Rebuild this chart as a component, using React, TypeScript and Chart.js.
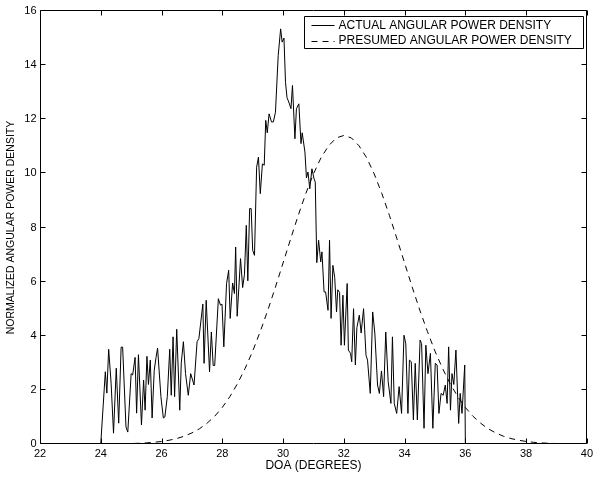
import React, { useEffect, useRef } from 'react';
import { Chart, registerables } from 'chart.js';

Chart.register(...registerables);

const FONT = '"Liberation Sans", Arial, Helvetica, sans-serif';

const xTitle = 'DOA (DEGREES)';
const yTitle = 'NORMALIZED ANGULAR POWER DENSITY';
const seriesLabels = ['ACTUAL ANGULAR POWER DENSITY', 'PRESUMED ANGULAR POWER DENSITY'];

const xTicks = [22, 24, 26, 28, 30, 32, 34, 36, 38, 40];
const yTicks = [0, 2, 4, 6, 8, 10, 12, 14, 16];

const actualDoa = [
  24.0, 24.15, 24.2, 24.26, 24.34, 24.42, 24.51, 24.59, 24.67, 24.72,
  24.83, 24.89, 25.0, 25.05, 25.13, 25.18, 25.24, 25.34, 25.41, 25.46,
  25.52, 25.57, 25.63, 25.69, 25.76, 25.82, 25.87, 25.98, 26.06, 26.11,
  26.19, 26.27, 26.32, 26.38, 26.43, 26.5, 26.6, 26.65, 26.72, 26.79,
  26.88, 26.96, 27.07, 27.17, 27.23, 27.36, 27.4, 27.47, 27.58, 27.64,
  27.7, 27.75, 27.87, 27.94, 27.99, 28.05, 28.14, 28.21, 28.26, 28.34,
  28.4, 28.44, 28.49, 28.6, 28.67, 28.73, 28.79, 28.84, 28.9, 28.95,
  29.0, 29.06, 29.13, 29.19, 29.25, 29.32, 29.38, 29.43, 29.48, 29.54,
  29.62, 29.68, 29.75, 29.84, 29.92, 29.97, 30.03, 30.08, 30.13, 30.2,
  30.26, 30.31, 30.39, 30.44, 30.52, 30.59, 30.63, 30.72, 30.77, 30.82,
  30.88, 30.95, 31.02, 31.06, 31.11, 31.17, 31.24, 31.28, 31.35, 31.4,
  31.48, 31.53, 31.58, 31.64, 31.7, 31.76, 31.8, 31.86, 31.91, 31.97,
  32.02, 32.11, 32.15, 32.22, 32.26, 32.32, 32.38, 32.43, 32.51, 32.57,
  32.65, 32.73, 32.78, 32.87, 32.95, 33.02, 33.11, 33.17, 33.24, 33.31,
  33.38, 33.46, 33.55, 33.6, 33.66, 33.74, 33.82, 33.9, 33.98, 34.04,
  34.11, 34.16, 34.22, 34.29, 34.35, 34.42, 34.51, 34.56, 34.64, 34.7,
  34.77, 34.85, 34.93, 35.01, 35.07, 35.13, 35.2, 35.27, 35.34, 35.4,
  35.45, 35.51, 35.56, 35.62, 35.69, 35.78, 35.83, 35.89, 35.98, 36.0,
];

const actualDensity = [
  0, 2.67, 1.88, 3.5, 2.25, 0.4, 2.8, 0.77, 3.58, 3.58,
  0.63, 0.44, 2.6, 2.55, 3.2, 1.14, 3.3, 0.7, 2.36, 1.25,
  3.24, 2.2, 3.1, 0.96, 2.73, 3.2, 3.54, 1.75, 0.96, 1.0,
  1.75, 3.5, 1.8, 3.96, 1.75, 4.24, 1.25, 3.0, 3.78, 2.6,
  1.8, 2.6, 2.18, 3.78, 3.9, 5.17, 2.98, 5.31, 2.67, 4.14,
  2.9, 2.9, 5.37, 5.13, 5.17, 3.59, 5.93, 6.42, 4.64, 5.95,
  5.56, 7.28, 4.72, 6.85, 5.78, 6.27, 8.08, 6.03, 8.7, 8.7,
  7.16, 6.97, 10.23, 10.6, 9.25, 10.35, 10.3, 11.96, 11.5, 12.2,
  11.9, 11.9, 12.26, 14.35, 15.34, 14.85, 15.0, 13.37, 12.8, 12.6,
  12.39, 13.25, 11.28, 12.39, 12.57, 11.1, 11.5, 10.79, 9.83, 10.05,
  9.43, 10.17, 9.8, 9.68, 6.7, 7.53, 6.73, 7.1, 5.62, 5.62,
  4.94, 7.53, 4.64, 6.6, 6.15, 4.88, 5.7, 5.6, 3.65, 5.5,
  3.65, 5.93, 3.47, 3.35, 3.04, 5.0, 2.92, 4.3, 4.76, 4.1,
  5.0, 3.28, 3.1, 1.87, 4.88, 4.1, 2.18, 1.87, 2.7, 1.75,
  4.14, 2.3, 1.5, 3.96, 1.5, 1.13, 2.12, 1.13, 4.02, 3.7,
  1.13, 3.1, 3.04, 0.89, 2.98, 0.89, 3.84, 3.71, 0.58, 3.65,
  2.6, 3.35, 0.58, 2.98, 2.92, 1.13, 1.87, 1.8, 2.18, 1.5,
  3.59, 1.25, 2.6, 2.2, 3.47, 0.76, 1.87, 1.13, 2.92, 0,
];

const presumedDoa = [
  24.0, 24.25, 24.5, 24.75, 25.0, 25.25, 25.5, 25.75, 26.0, 26.25,
  26.5, 26.75, 27.0, 27.25, 27.5, 27.75, 28.0, 28.25, 28.5, 28.75,
  29.0, 29.25, 29.5, 29.75, 30.0, 30.25, 30.5, 30.75, 31.0, 31.25,
  31.5, 31.75, 32.0, 32.25, 32.5, 32.75, 33.0, 33.25, 33.5, 33.75,
  34.0, 34.25, 34.5, 34.75, 35.0, 35.25, 35.5, 35.75, 36.0, 36.25,
  36.5, 36.75, 37.0, 37.25, 37.5, 37.75, 38.0, 38.25, 38.5, 38.75,
  39.0, 39.25, 39.5, 39.75, 40.0,
];

const presumedDensity = [
  0.002, 0.004, 0.006, 0.01, 0.017, 0.026, 0.041, 0.062, 0.094, 0.139,
  0.202, 0.289, 0.41, 0.563, 0.77, 1.026, 1.35, 1.75, 2.23, 2.79,
  3.43, 4.16, 4.95, 5.8, 6.69, 7.58, 8.45, 9.26, 9.98, 10.58,
  11.02, 11.31, 11.4, 11.31, 11.02, 10.58, 9.98, 9.26, 8.45, 7.58,
  6.69, 5.8, 4.95, 4.16, 3.43, 2.79, 2.23, 1.75, 1.35, 1.026,
  0.77, 0.563, 0.41, 0.289, 0.202, 0.139, 0.094, 0.062, 0.041, 0.026,
  0.017, 0.01, 0.006, 0.004, 0.002,
];

const DASH = [6, 5];

const frameAndLegend = {
  id: 'frameAndLegend',
  afterDraw(chart: any) {
    const { ctx, chartArea: a, scales } = chart;
    const L = Math.round(a.left) + 0.5;
    const R = Math.round(a.right) - 0.5;
    const T = Math.round(a.top) - 0.5;
    const B = Math.round(a.bottom) - 0.5;
    const TL = 5;
    ctx.save();
    ctx.strokeStyle = '#000';
    ctx.lineWidth = 1;
    ctx.setLineDash([]);
    ctx.beginPath();
    ctx.rect(L, T, R - L, B - T);
    for (const v of xTicks) {
      const px = Math.round(scales.x.getPixelForValue(v)) + 0.5;
      ctx.moveTo(px, B); ctx.lineTo(px, B - TL);
      ctx.moveTo(px, T); ctx.lineTo(px, T + TL);
    }
    for (const v of yTicks) {
      const py = Math.round(scales.y.getPixelForValue(v)) - 0.5;
      ctx.moveTo(L, py); ctx.lineTo(L + TL, py);
      ctx.moveTo(R, py); ctx.lineTo(R - TL, py);
    }
    ctx.stroke();

    // legend
    const bx = Math.round(a.left + 264) + 0.5;
    const by = Math.round(a.top + 5) + 0.5;
    const bw = 279;
    const bh = 32;
    ctx.fillStyle = '#fff';
    ctx.fillRect(bx, by, bw, bh);
    ctx.beginPath();
    ctx.rect(bx, by, bw, bh);
    ctx.stroke();
    ctx.font = `12px ${FONT}`;
    ctx.fillStyle = '#000';
    ctx.textBaseline = 'middle';
    ctx.textAlign = 'left';
    const rows = [by + 8.5, by + 24];
    chart.data.datasets.forEach((ds: any, i: number) => {
      const y = Math.round(rows[i]) + 0.5;
      ctx.beginPath();
      ctx.setLineDash(ds.borderDash || []);
      ctx.moveTo(bx + 7, y);
      ctx.lineTo(bx + 30, y);
      ctx.stroke();
      ctx.setLineDash([]);
      ctx.fillText(ds.label, bx + 34, rows[i] + 0.5);
    });
    ctx.restore();
  },
};

export default function App() {
  const ref = useRef<HTMLCanvasElement | null>(null);
  useEffect(() => {
    if (!ref.current) return;
    const chart = new Chart(ref.current, {
      type: 'scatter',
      data: {
        datasets: [
          {
            label: seriesLabels[0],
            data: actualDoa.map((x, i) => ({ x, y: actualDensity[i] })),
            showLine: true,
            borderColor: '#000',
            borderWidth: 1,
            pointRadius: 0,
            tension: 0,
          },
          {
            label: seriesLabels[1],
            data: presumedDoa.map((x, i) => ({ x, y: presumedDensity[i] })),
            showLine: true,
            borderColor: '#000',
            borderWidth: 1,
            borderDash: DASH,
            pointRadius: 0,
            tension: 0,
          },
        ],
      },
      options: {
        animation: false,
        responsive: false,
        devicePixelRatio: 1,
        layout: { padding: { left: 0, right: 6, top: 11, bottom: 0 } },
        plugins: { legend: { display: false }, tooltip: { enabled: false } },
        scales: {
          x: {
            type: 'linear',
            min: 22,
            max: 40,
            afterBuildTicks: (s: any) => { s.ticks = xTicks.map((v) => ({ value: v })); },
            afterFit: (s: any) => { s.height = 35; },
            grid: { display: false, drawTicks: false },
            border: { display: false },
            ticks: { color: '#000', font: { family: FONT, size: 11 }, padding: 3, maxRotation: 0, autoSkip: false },
            title: { display: true, text: xTitle, color: '#000', font: { family: FONT, size: 12 }, padding: { top: 0, bottom: 6 } },
          },
          y: {
            type: 'linear',
            min: 0,
            max: 16,
            afterBuildTicks: (s: any) => { s.ticks = yTicks.map((v) => ({ value: v })); },
            afterFit: (s: any) => { s.width = 40; },
            grid: { display: false, drawTicks: false },
            border: { display: false },
            ticks: { color: '#000', font: { family: FONT, size: 11 }, padding: 3.5 },
            title: { display: true, text: yTitle, color: '#000', font: { family: FONT, size: 10.5 }, padding: { top: 5, bottom: 0 } },
          },
        },
      },
      plugins: [frameAndLegend],
    });
    return () => chart.destroy();
  }, []);
  return (
    <div style={{ position: 'fixed', left: 0, top: 0, width: 596, height: 479, background: '#fff' }}>
      <canvas ref={ref} width={596} height={479} />
    </div>
  );
}
